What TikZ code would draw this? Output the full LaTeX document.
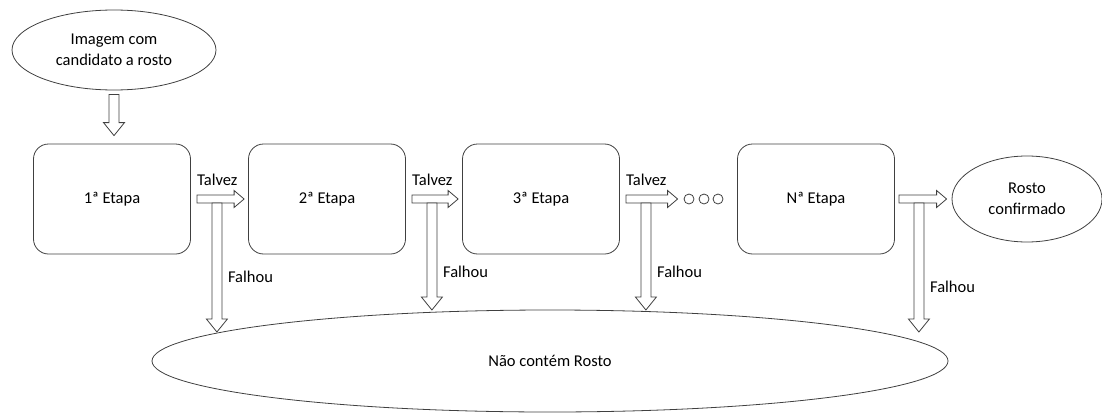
\documentclass[tikz,border=0pt]{standalone}
\usepackage{fontspec}
\setmainfont{Carlito}
\usetikzlibrary{positioning,calc,shapes.geometric}

\definecolor{linegray}{HTML}{404040}

% hollow block arrows between two points
\newcommand\hollowright[2]{%
  \draw[hollow] let \p1=(#1), \p2=(#2) in
    (\x1,\y1+4pt) -- (\x2-10pt,\y1+4pt) -- (\x2-10pt,\y1+8.5pt) -- (\x2,\y1)
    -- (\x2-10pt,\y1-8.5pt) -- (\x2-10pt,\y1-4pt) -- (\x1,\y1-4pt) -- cycle;}
\newcommand\hollowdown[2]{%
  \draw[hollow] let \p1=(#1), \p2=(#2) in
    (\x1-5pt,\y1) -- (\x1-5pt,\y2+13pt) -- (\x1-10.5pt,\y2+13pt) -- (\x1,\y2)
    -- (\x1+10.5pt,\y2+13pt) -- (\x1+5pt,\y2+13pt) -- (\x1+5pt,\y1) -- cycle;}

\tikzset{
  etapa/.style={draw=linegray, line width=0.8pt, rounded corners=15pt,
    minimum width=157pt, minimum height=110pt, font=\fontsize{16.5}{20}\selectfont},
  oval/.style={ellipse, draw=linegray, line width=0.8pt, inner sep=0pt,
    align=center, font=\fontsize{16.5}{21}\selectfont},
  hollow/.style={draw=linegray, line width=0.8pt, fill=white},
  lbl/.style={inner sep=0pt, font=\fontsize{16.5}{20}\selectfont},
  dot/.style={circle, draw=linegray, line width=0.8pt, minimum size=10pt, inner sep=0pt},
}

\begin{document}
\begin{tikzpicture}[x=1pt,y=-1pt]
\useasboundingbox (0,0) rectangle (1102,412);

% input and outputs
\node[oval, minimum width=204pt, minimum height=80pt] (img) at (114,50) {Imagem com\\candidato a rosto};
\node[oval, minimum width=150pt, minimum height=86pt] (ok) at (1027,199) {Rosto\\confirmado};
\node[oval, minimum width=796pt, minimum height=102pt] (nao) at (550,361) {Não contém Rosto};

% cascade stages
\node[etapa] (s1) at (112,199) {1ª Etapa};
\node[etapa] (s2) at (327,199) {2ª Etapa};
\node[etapa] (s3) at (541,199) {3ª Etapa};
\node[dot] (d1) at (689,199) {};
\node[dot] (d2) at (704,199) {};
\node[dot] (d3) at (718,199) {};
\node[etapa] (sn) at (816,199) {Nª Etapa};

% input arrow
\coordinate (in0) at ($(img.south)+(0,4)$);
\coordinate (in1) at ($(s1.north)+(0,-8)$);
\hollowdown{in0}{in1}

% "Talvez" arrows
\coordinate (t1) at ($(s1.east)+(6,0)$);
\coordinate (t2) at ($(s2.east)+(6,0)$);
\coordinate (t3) at ($(s3.east)+(6,0)$);
\coordinate (t4) at ($(sn.east)+(4,0)$);
\hollowright{t1}{$(s2.west)+(-4,0)$}
\hollowright{t2}{$(s3.west)+(-4,0)$}
\hollowright{t3}{$(d1.west)+(-6,0)$}
\hollowright{t4}{$(ok.west)+(-5,0)$}
\node[lbl, anchor=base west] (tv1) at ($(t1)+(0,-14)$) {Talvez};
\node[lbl, anchor=base west] (tv2) at ($(t2)+(0,-14)$) {Talvez};
\node[lbl, anchor=base west] (tv3) at ($(t3)+(0,-14)$) {Talvez};

% "Falhou" arrows
\coordinate (f1) at ($(t1)+(20,4)$);
\coordinate (f2) at ($(t2)+(20,4)$);
\coordinate (f3) at ($(t3)+(20,4)$);
\coordinate (f4) at ($(t4)+(20,4)$);
\coordinate (e1) at (f1 |- 0,332);
\coordinate (e2) at (f2 |- 0,310);
\coordinate (e3) at (f3 |- 0,310);
\coordinate (e4) at (f4 |- 0,332);
\hollowdown{f1}{e1}
\hollowdown{f2}{e2}
\hollowdown{f3}{e3}
\hollowdown{f4}{e4}
\node[lbl, anchor=base west] (fh1) at (f1 |- 0,282) [xshift=11pt] {Falhou};
\node[lbl, anchor=base west] (fh2) at (f2 |- 0,277) [xshift=11pt] {Falhou};
\node[lbl, anchor=base west] (fh3) at (f3 |- 0,277) [xshift=11pt] {Falhou};
\node[lbl, anchor=base west] (fh4) at (f4 |- 0,292) [xshift=11pt] {Falhou};
\end{tikzpicture}
\end{document}
